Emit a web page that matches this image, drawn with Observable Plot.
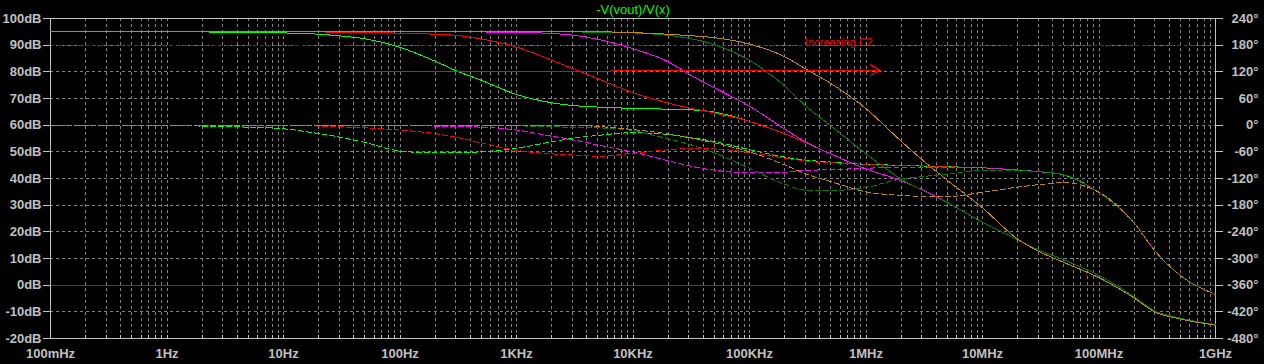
<!DOCTYPE html>
<html><head><meta charset="utf-8">
<script src="https://cdn.jsdelivr.net/npm/d3@7"></script>
<script src="https://cdn.jsdelivr.net/npm/@observablehq/plot@0.6"></script>
<style>
html,body{margin:0;padding:0;background:#000;}
#chart svg{display:block;}
</style></head><body><div id="chart"></div>
<script>
const titleText = "-V(vout)/V(x)";
const freqHz = [0.1, 0.3, 1, 2, 3, 5, 10, 20, 30, 50, 100, 200, 300, 500, 1e3, 2e3, 3e3, 5e3, 1e4, 2e4, 3e4, 5e4, 1e5, 2e5, 3e5, 5e5, 1e6, 2e6, 3e6, 5e6, 1e7, 2e7, 3e7, 5e7, 1e8, 2e8, 3e8, 5e8, 1e9];

const runNames = ["C2 #1", "C2 #2", "C2 #3", "C2 #4", "C2 #5"];
const runColors = ["#00ff00", "#ff0000", "#ff00ff", "#008000", "#c8880c"];

// magnitude, dB
const magRun1 = [95, 95, 95, 94.95, 94.9, 94.8, 94.6, 94.1, 93.5, 92.4, 89.2, 84, 80.5, 76.8, 71.5, 68.4, 67.4, 66.8, 66.3, 66, 65.8, 64.9, 61.4, 56.8, 53.6, 49.2, 43.6, 39.2, 35.9, 31, 23.6, 17, 13.3, 9.5, 3.6, -4.3, -9.6, -12.4, -14.8];
const magRun2 = [95, 95, 95, 95, 95, 95, 95, 94.95, 94.9, 94.8, 94.5, 94.1, 93.7, 92.3, 89.3, 84.4, 81.3, 77.4, 72.2, 68.3, 66.5, 64.6, 61.4, 56.8, 53.6, 49.2, 43.6, 39.2, 35.9, 31, 23.6, 17, 13.3, 9.5, 3.6, -4.3, -9.6, -12.4, -14.8];
const magRun3 = [95, 95, 95, 95, 95, 95, 95, 95, 95, 95, 95, 95, 95, 94.95, 94.8, 94.4, 93.8, 92.2, 88.7, 83.8, 79.2, 74, 67.1, 58.6, 53.8, 49.2, 43.6, 39.2, 35.9, 31, 23.6, 17, 13.3, 9.5, 3.6, -4.3, -9.6, -12.4, -14.8];
const magRun4 = [95, 95, 95, 95, 95, 95, 95, 95, 95, 95, 95, 95, 95, 95, 95, 95, 94.95, 94.9, 94.6, 93.7, 92.6, 90.2, 84.3, 74.7, 67.4, 59.7, 49.3, 39.8, 35.7, 31, 23.6, 17, 13.3, 9.5, 3.6, -4.3, -9.6, -12.4, -14.8];
const magRun5 = [95, 95, 95, 95, 95, 95, 95, 95, 95, 95, 95, 95, 95, 95, 95, 95, 95, 95, 94.7, 94.1, 93.6, 92.8, 90.4, 85.7, 81.2, 75.6, 66.2, 54, 47.2, 39.3, 29, 17.3, 12.8, 8.5, 2.8, -4.8, -10, -12.7, -15];

// phase, degrees
const phaseRun1 = [-0.1, -0.3, -1, -2, -3, -4.5, -8, -19, -26.5, -39, -58, -62.5, -62, -60, -52, -37.6, -29.8, -23, -17, -21, -27.2, -37, -55, -72, -78.5, -83, -88, -90.5, -92, -93.5, -96, -101, -104.5, -112, -152, -220, -282, -338, -381];
const phaseRun2 = [0, 0, -0.1, -0.2, -0.3, -0.5, -1, -2, -3.5, -6, -11, -19, -27, -40, -56.7, -64.5, -67, -70, -63, -55.5, -52.6, -53.5, -61.7, -74, -81, -84.5, -88, -90.5, -91.5, -93.5, -96, -101, -104.5, -112, -152, -220, -282, -338, -381];
const phaseRun3 = [0, 0, 0, 0, 0, 0, 0, 0, 0, 0, -0.8, -2, -3, -4.5, -11, -24.8, -32.5, -44.5, -60.5, -80, -91.3, -101.3, -107.5, -106, -102, -100, -97, -94.6, -94.5, -95, -96, -101, -104.5, -112, -152, -220, -282, -338, -381];
const phaseRun4 = [0, 0, 0, 0, 0, 0, 0, 0, 0, 0, 0, 0, 0, -0.5, -1.5, -3.5, -5, -6, -12, -31, -42.7, -62, -97, -133, -146, -147, -140, -121, -116, -110, -102, -102.5, -104.5, -112, -152, -220, -282, -338, -381];
const phaseRun5 = [0, 0, 0, 0, 0, 0, 0, 0, 0, 0, 0, 0, 0, 0, 0, 0, 0, -3, -9.8, -19.8, -28, -40, -60, -89.5, -109, -127, -150, -158, -160, -160.5, -151, -139.5, -134, -129.5, -151, -220, -282, -338, -381];

// axes
const dbTicks = [-20, -10, 0, 10, 20, 30, 40, 50, 60, 70, 80, 90, 100];
const phaseTicks = [-480, -420, -360, -300, -240, -180, -120, -60, 0, 60, 120, 180, 240];
const decadeTicks = [0.1, 1, 10, 100, 1e3, 1e4, 1e5, 1e6, 1e7, 1e8, 1e9];
const decadeLabels = ["100mHz", "1Hz", "10Hz", "100Hz", "1KHz", "10KHz", "100KHz", "1MHz", "10MHz", "100MHz", "1GHz"];
const minorMultipliers = [1, 2, 3, 4, 5, 6, 7, 8, 9];

// reference lines (dB) and annotation
const refSolidDb = [0];
const refDashedDb = [90];
const annotations = [{f: 3.0e5, db: 91, label: "Increasing C2"}];
const arrows = [{f1: 40, db1: 80, f2: 1.33e6, db2: 80.63}];

const mags = [magRun1, magRun2, magRun3, magRun4, magRun5];
const phases = [phaseRun1, phaseRun2, phaseRun3, phaseRun4, phaseRun5];

const dbDomain = [dbTicks[0], dbTicks[dbTicks.length - 1]];
const phaseDomain = [phaseTicks[0], phaseTicks[phaseTicks.length - 1]];
const phaseToDb = d3.scaleLinear(phaseDomain, dbDomain);

const minorTicks = [];
decadeTicks.slice(0, -1).forEach(d => minorMultipliers.forEach(k => minorTicks.push(k * d)));
minorTicks.push(decadeTicks[decadeTicks.length - 1]);
const gridX = minorTicks.filter((v, i) => i > 0 && i < minorTicks.length - 1);
const gridY = dbTicks.slice(1, -1);

const magMarks = runNames.map((name, i) =>
  Plot.line(freqHz.map((f, j) => ({f, db: mags[i][j]})), {
    x: "f", y: "db", stroke: runColors[i], strokeWidth: 1, curve: "monotone-x"
  }));
const phaseMarks = runNames.map((name, i) =>
  Plot.line(freqHz.map((f, j) => ({f, ph: phases[i][j]})), {
    x: "f", y: d => phaseToDb(d.ph), stroke: runColors[i], strokeWidth: 1,
    strokeDasharray: "5,3", curve: "monotone-x"
  }));

const chart = Plot.plot({
  width: 1264, height: 364,
  marginTop: 18, marginRight: 49, marginBottom: 26, marginLeft: 50,
  style: {background: "#000", color: "#c0c0c0", fontFamily: "Liberation Sans, Arial, sans-serif", fontSize: "13px", shapeRendering: "crispEdges"},
  x: {type: "log", domain: [decadeTicks[0], decadeTicks[decadeTicks.length - 1]], label: null},
  y: {domain: dbDomain, label: null},
  marks: [
    Plot.ruleX(gridX, {stroke: "#808080", strokeDasharray: "3,3"}),
    Plot.ruleY(gridY, {stroke: "#808080", strokeDasharray: "3,3"}),
    Plot.ruleY(refDashedDb, {stroke: "#8a108a", strokeDasharray: "4,3"}),
    Plot.ruleY(refSolidDb, {stroke: "#8a108a"}),
    Plot.frame({stroke: "#c0c0c0"}),
    Plot.axisY(dbTicks, {anchor: "left", tickSize: 7, tickPadding: 2, fontWeight: "bold", tickFormat: d => d + "dB"}),
    Plot.axisY(dbTicks, {anchor: "right", tickSize: 7, tickPadding: 36, textAnchor: "end", fontWeight: "bold",
      tickFormat: d => phaseTicks[dbTicks.indexOf(d)] + "°"}),
    Plot.axisX(decadeTicks, {anchor: "bottom", tickSize: 0, tickPadding: 10, fontWeight: "bold",
      tickFormat: d => decadeLabels[decadeTicks.indexOf(d)]}),
    Plot.axisX(minorTicks, {anchor: "bottom", tickSize: -3, tickFormat: () => ""}),
    ...magMarks,
    ...phaseMarks,
    Plot.arrow(arrows, {x1: "f1", y1: "db1", x2: "f2", y2: "db2", stroke: "#ff0000", strokeWidth: 1, headLength: 17, headAngle: 56}),
    Plot.text(annotations, {x: "f", y: "db", text: "label", fill: "#ff0000", textAnchor: "start", fontSize: 11}),
    Plot.text([titleText], {frameAnchor: "top", dy: -9, text: d => d, fill: "#00ff00", fontSize: 13, lineAnchor: "middle"})
  ]
});
document.getElementById("chart").append(chart);
</script>
</body></html>
